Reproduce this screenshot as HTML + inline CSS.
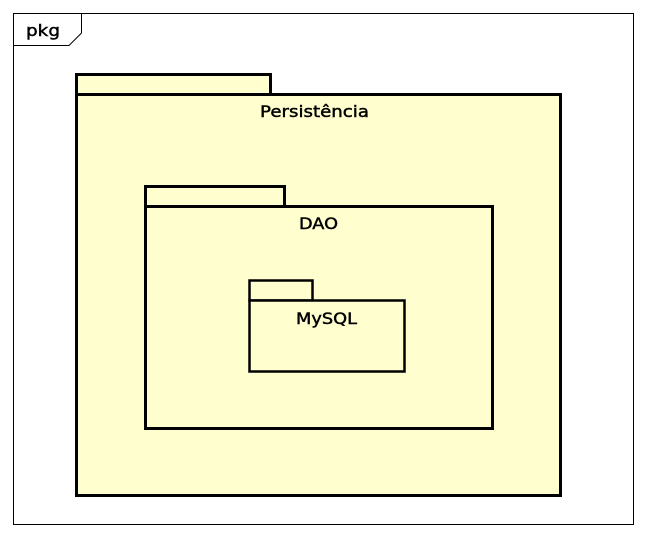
<!DOCTYPE html>
<html><head><meta charset="utf-8"><style>
html,body{margin:0;padding:0;background:#fff;width:646px;height:538px;overflow:hidden}
text{font-family:"DejaVu Sans","Liberation Sans",sans-serif;font-size:16px;fill:#000;stroke:#000;stroke-width:0.45}
</style></head><body>
<svg width="646" height="538" xmlns="http://www.w3.org/2000/svg">
<rect x="13.5" y="13.5" width="620" height="511" fill="#fff" stroke="#000" stroke-width="1"/>
<path d="M13.5 45.5 H69 L81.5 33 V13.5" fill="none" stroke="#000" stroke-width="1"/>
<text x="26" y="36" textLength="34" lengthAdjust="spacingAndGlyphs">pkg</text>
<g fill="#fefece" stroke="#000" stroke-width="3">
<rect x="76.5" y="74.5" width="194" height="20"/>
<rect x="76.5" y="94.5" width="484" height="401"/>
<rect x="145.5" y="186.5" width="139" height="20"/>
<rect x="145.5" y="206.5" width="347" height="222"/>
</g>
<g fill="#fefece" stroke="#000" stroke-width="2.5">
<rect x="249.5" y="280.5" width="63" height="20"/>
<rect x="249.5" y="300.5" width="155" height="71"/>
</g>
<text x="260" y="117" textLength="109" lengthAdjust="spacingAndGlyphs">Persistência</text>
<text x="299" y="229" textLength="39" lengthAdjust="spacingAndGlyphs">DAO</text>
<text x="296" y="324" textLength="61" lengthAdjust="spacingAndGlyphs">MySQL</text>
</svg>
</body></html>
